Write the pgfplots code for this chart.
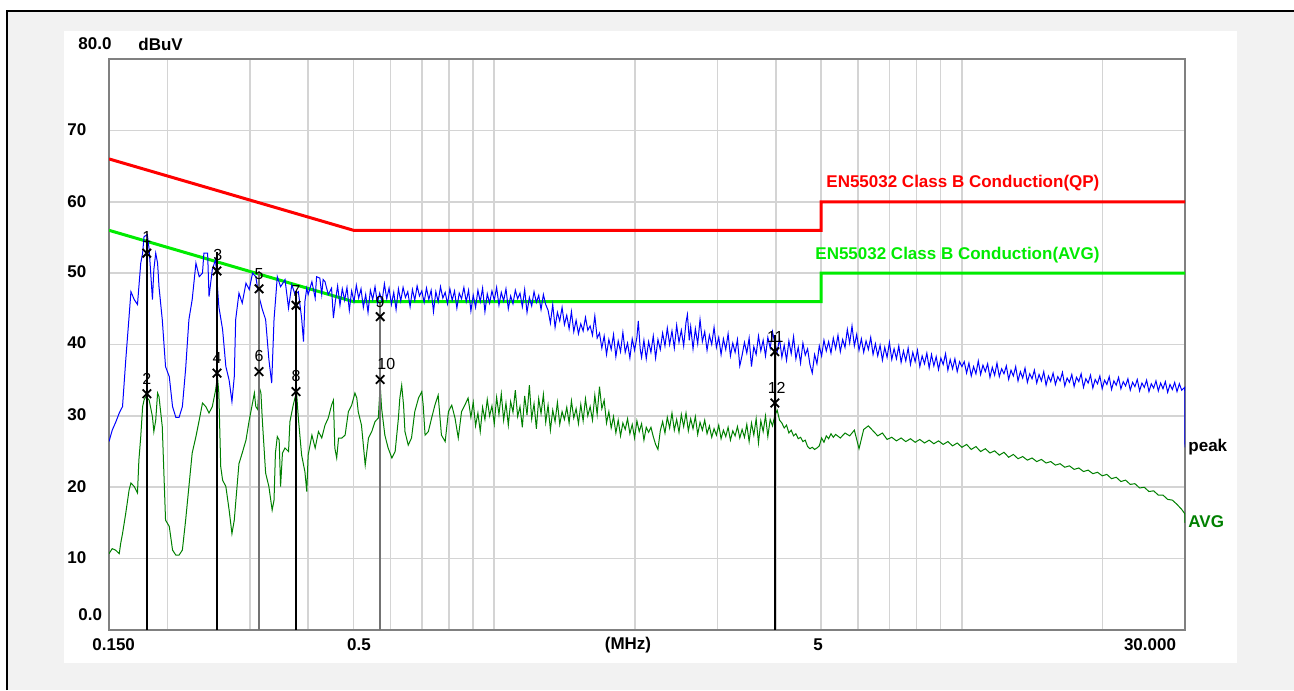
\documentclass[border=0pt]{standalone}
\usepackage{fontspec}
\setmainfont{Liberation Sans}
\usepackage{pgfplots}
\pgfplotsset{compat=1.18}
\definecolor{limred}{RGB}{255,0,0}
\definecolor{limgreen}{RGB}{0,235,0}
\definecolor{avgtrace}{RGB}{0,128,0}
\definecolor{pktrace}{RGB}{0,0,255}
\definecolor{panelgray}{RGB}{242,242,242}
\definecolor{gridgray}{RGB}{212,212,212}
\definecolor{framegray}{RGB}{128,128,128}
\newcommand{\lab}{\fontsize{8.5}{10}\selectfont\bfseries}
\newcommand{\mlab}{\fontsize{8}{9}\selectfont}
\begin{document}
\begin{tikzpicture}
\begin{scope}[x=0.5pt,y=-0.5pt]
\useasboundingbox (0,0) rectangle (1294,690);
\fill[white] (0,0) rectangle (1294,690);
\fill[panelgray] (7,11) rectangle (1294,690);
\draw[black,line width=1pt] (7,690) -- (7,11) -- (1294,11);
\fill[white] (64,31) rectangle (1237,663);
\end{scope}
\begin{axis}[at={(54.5pt,-29.5pt)}, anchor=north west, scale only axis,
  width=538pt, height=285.5pt,
  xmin=-0.82391, xmax=1.47712, ymin=0, ymax=80,
  xtick={-0.69897,-0.52288,-0.39794,-0.30103,-0.22185,-0.15490,-0.09691,-0.04576,0,0.30103,0.47712,0.60206,0.69897,0.77815,0.84510,0.90309,0.95424,1,1.30103},
  ytick={10,20,30,40,50,60,70},
  xticklabel=\empty, yticklabel=\empty,
  major tick length=0pt,
  grid=major, major grid style={gridgray, line width=0.8pt},
  axis line style={framegray, line width=1pt}]
% limit lines
\addplot[limred, line width=1.5pt, no marks] coordinates {(-0.82391,66) (-0.30103,56) (0.69897,56) (0.69897,60) (1.47712,60)};
\addplot[limgreen, line width=1.5pt, no marks] coordinates {(-0.82391,56) (-0.30103,46) (0.69897,46) (0.69897,50) (1.47712,50)};
% AVG trace
\addplot[avgtrace, line width=0.5pt, no marks] coordinates {
(-0.8239,10.7)(-0.817,11.4)(-0.810,11.2)(-0.802,10.7)(-0.799,12.1)(-0.795,13.5)(-0.788,16.4)(-0.781,19.6)(-0.777,20.6)(-0.770,20.1)(-0.763,19.2)(-0.760,23.8)(-0.756,27.1)(-0.752,31.3)(-0.749,32.2)(-0.745,32.7)(-0.738,32.2)(-0.731,29.9)(-0.728,27.8)(-0.724,29.4)(-0.720,33.2)(-0.717,32.7)(-0.710,28.5)(-0.703,15.4)(-0.695,14.5)(-0.688,11.2)(-0.681,10.5)(-0.674,10.5)(-0.667,11.2)(-0.660,15.4)(-0.653,20.1)(-0.646,24.8)(-0.638,27.1)(-0.631,29.4)(-0.624,31.8)(-0.617,31.3)(-0.610,30.4)(-0.603,31.3)(-0.596,33.6)(-0.592,35.5)(-0.589,33.2)(-0.585,22.9)(-0.581,21.0)(-0.574,20.1)(-0.567,16.8)(-0.561,13.5)(-0.556,15.4)(-0.553,17.8)(-0.546,23.3)(-0.539,24.8)(-0.531,26.6)(-0.524,29.4)(-0.517,31.8)(-0.513,33.2)(-0.510,31.3)(-0.506,30.9)(-0.503,34.1)(-0.499,33.2)(-0.496,29.4)(-0.489,22.0)(-0.482,20.1)(-0.475,16.8)(-0.471,18.2)(-0.468,24.8)(-0.464,27.1)(-0.460,26.6)(-0.457,20.1)(-0.453,24.8)
(-0.4475,25.5)(-0.440,25.0)(-0.437,29.2)(-0.430,31.5)(-0.423,33.4)(-0.419,29.7)(-0.412,24.5)(-0.405,22.2)(-0.401,19.4)(-0.398,24.5)(-0.390,27.3)(-0.383,25.5)(-0.376,27.8)(-0.369,26.9)(-0.362,28.7)(-0.355,29.7)(-0.348,31.5)(-0.344,32.2)(-0.341,25.5)(-0.337,24.1)(-0.333,26.9)(-0.326,26.9)(-0.319,27.3)(-0.312,30.6)(-0.305,31.5)(-0.298,33.2)(-0.294,32.5)(-0.291,30.6)(-0.284,28.7)(-0.276,23.1)(-0.269,26.9)(-0.262,27.8)(-0.255,29.2)(-0.248,29.7)(-0.244,34.3)(-0.241,31.1)(-0.234,27.3)(-0.227,25.5)(-0.219,24.1)(-0.212,25.0)(-0.205,29.7)(-0.202,32.5)(-0.198,34.3)(-0.194,31.5)(-0.191,27.8)(-0.184,25.9)(-0.177,26.9)(-0.170,30.6)(-0.162,32.5)(-0.155,33.4)(-0.152,31.5)(-0.148,27.3)(-0.141,27.8)(-0.134,29.7)(-0.127,31.5)(-0.120,32.9)(-0.116,29.7)(-0.113,27.3)(-0.105,26.4)(-0.098,30.6)(-0.091,31.5)(-0.084,29.7)(-0.077,26.9)(-0.070,30.6)(-0.063,31.5)(-0.056,32.5)
(-0.050,29.8)(-0.045,31.9)(-0.040,28.6)(-0.035,30.4)(-0.030,27.8)(-0.025,31.2)(-0.020,29.5)(-0.015,32.3)(-0.010,30.0)(-0.005,31.4)(0.000,28.9)(0.005,32.6)(0.010,30.2)(0.015,33.1)(0.020,29.4)(0.025,31.8)(0.030,28.7)(0.035,32.0)(0.040,30.5)(0.045,33.6)(0.050,29.9)(0.055,31.3)(0.060,28.4)(0.065,32.8)(0.070,30.1)(0.075,34.3)(0.080,29.6)(0.085,31.7)(0.090,28.2)(0.095,32.4)(0.100,30.3)(0.105,33.0)(0.110,29.1)(0.115,31.5)(0.120,28.0)(0.125,30.8)(0.130,29.2)(0.135,31.9)(0.140,28.8)(0.145,30.6)(0.150,29.5)(0.155,31.2)(0.160,29.0)(0.165,32.1)(0.170,29.7)(0.175,31.0)(0.180,28.9)(0.185,31.6)(0.190,29.3)(0.195,32.4)(0.200,30.0)(0.205,31.3)(0.210,29.4)(0.215,32.9)(0.220,30.2)(0.225,34.1)(0.230,31.0)(0.235,32.2)(0.240,29.0)(0.245,30.6)(0.250,28.3)(0.255,29.9)(0.260,27.6)(0.265,29.4)(0.270,27.2)(0.275,29.0)(0.280,28.1)(0.285,29.6)(0.290,27.5)(0.295,28.8)(0.300,26.9)(0.305,29.3)(0.310,27.8)(0.315,28.9)(0.320,26.6)(0.325,28.4)(0.330,27.7)
(0.335,28.4)(0.340,27.1)(0.345,26.0)(0.350,25.3)(0.355,27.9)(0.360,29.2)(0.365,27.6)(0.370,29.8)(0.375,28.3)(0.380,30.4)(0.385,28.0)(0.390,29.5)(0.395,27.7)(0.400,30.2)(0.405,28.5)(0.410,30.4)(0.415,27.9)(0.420,29.6)(0.425,28.2)(0.430,29.9)(0.435,27.4)(0.440,29.1)(0.445,28.0)(0.450,29.4)(0.455,27.5)(0.460,28.6)(0.465,27.0)(0.470,28.2)(0.475,27.3)(0.480,28.7)(0.485,26.8)(0.490,28.0)(0.495,27.1)(0.500,28.4)(0.505,26.6)(0.510,27.9)(0.515,27.2)(0.520,28.5)(0.525,26.9)(0.530,28.1)(0.535,27.0)(0.540,28.8)(0.545,26.4)(0.550,29.0)(0.555,27.3)(0.560,29.6)(0.565,26.2)(0.570,29.3)(0.575,27.8)(0.580,30.0)(0.585,27.1)(0.590,29.5)(0.595,28.6)(0.600,30.1)(0.605,30.8)(0.610,29.4)(0.615,29.0)(0.620,28.3)(0.625,28.7)(0.630,27.6)(0.635,28.0)(0.640,27.2)(0.645,27.5)(0.650,26.8)(0.655,27.0)(0.660,26.4)(0.665,26.6)(0.670,25.7)(0.675,25.4)(0.680,25.6)(0.685,25.3)(0.690,25.5)(0.695,25.8)(0.700,26.9)(0.705,26.3)(0.710,27.2)(0.715,26.8)(0.720,27.5)(0.725,27.0)
(0.730,27.4)(0.740,26.9)(0.750,27.6)(0.760,27.2)(0.770,28.0)(0.780,25.4)(0.790,28.1)(0.800,28.6)(0.810,27.9)(0.820,27.2)(0.830,27.6)(0.840,26.7)(0.850,27.0)(0.860,26.5)(0.870,26.9)(0.880,26.4)(0.890,26.8)(0.900,26.3)(0.910,26.7)(0.920,26.2)(0.930,26.6)(0.940,26.1)(0.950,26.5)(0.960,26.0)(0.970,26.4)(0.980,25.8)(0.990,26.2)(1.000,25.6)(1.010,26.0)(1.020,25.3)(1.030,25.7)(1.040,25.0)(1.050,25.4)(1.060,24.8)(1.070,25.1)(1.080,24.5)(1.090,24.9)(1.100,24.2)(1.110,24.6)(1.120,24.0)(1.130,24.3)(1.140,23.8)(1.150,24.1)(1.160,23.6)(1.170,23.9)(1.180,23.4)(1.190,23.6)(1.200,23.1)(1.210,23.3)(1.220,22.8)(1.230,23.0)(1.240,22.5)(1.250,22.7)(1.260,22.2)(1.270,22.4)(1.280,21.9)(1.290,22.1)(1.300,21.6)(1.310,21.8)(1.320,21.2)(1.330,21.4)(1.340,20.8)(1.350,21.0)(1.360,20.4)(1.370,20.5)(1.380,19.9)(1.390,20.0)(1.400,19.4)(1.410,19.5)(1.420,18.9)(1.430,18.9)(1.440,18.3)(1.450,18.2)(1.460,17.6)(1.470,16.9)(1.4765,16.3)(1.4771,15.0)
};
% peak trace
\addplot[pktrace, line width=0.5pt, no marks] coordinates {
(-0.8239,26.4)(-0.817,28.0)(-0.809,29.2)(-0.802,30.4)(-0.795,31.3)(-0.788,37.9)(-0.781,43.9)(-0.777,47.4)(-0.770,46.3)(-0.763,45.6)(-0.760,48.1)(-0.756,51.4)(-0.752,52.8)(-0.749,55.1)(-0.742,55.4)(-0.738,53.3)(-0.731,46.3)(-0.728,50.5)(-0.724,52.8)(-0.720,51.4)(-0.717,48.1)(-0.710,43.5)(-0.703,36.9)(-0.695,35.5)(-0.688,31.3)(-0.681,29.8)(-0.674,29.8)(-0.667,31.3)(-0.660,36.6)(-0.653,43.5)(-0.646,46.3)(-0.638,51.4)(-0.631,49.5)(-0.624,50.0)(-0.621,52.8)(-0.613,52.8)(-0.610,46.7)(-0.603,50.5)(-0.596,51.9)(-0.592,48.1)(-0.589,45.3)(-0.581,42.1)(-0.574,36.9)(-0.567,35.0)(-0.561,32.0)(-0.556,35.5)(-0.553,43.5)(-0.546,47.2)(-0.539,45.8)(-0.531,48.6)(-0.524,47.7)(-0.517,50.0)(-0.510,49.5)(-0.503,46.7)(-0.496,44.9)(-0.489,43.5)(-0.482,37.9)(-0.476,34.6)(-0.471,43.5)(-0.464,49.5)(-0.457,48.1)(-0.452,48.6)
(-0.4475,49.1)(-0.440,45.1)(-0.433,48.4)(-0.426,47.0)(-0.419,47.4)(-0.412,43.7)(-0.408,40.4)(-0.405,46.0)(-0.401,47.9)(-0.398,47.0)(-0.390,48.8)(-0.383,46.5)(-0.380,49.5)(-0.373,49.3)(-0.369,47.0)(-0.366,49.1)(-0.362,48.8)(-0.355,47.0)(-0.348,47.9)(-0.344,43.7)
(-0.340,46.0)(-0.335,48.2)(-0.330,45.5)(-0.325,47.8)(-0.320,46.2)(-0.315,48.0)(-0.310,44.8)(-0.305,47.5)(-0.300,46.0)(-0.295,48.3)(-0.290,46.5)(-0.285,47.8)(-0.280,45.2)(-0.275,47.0)(-0.270,44.5)(-0.265,47.6)(-0.260,46.3)(-0.255,48.1)(-0.250,45.8)(-0.245,47.2)(-0.240,46.0)(-0.235,48.5)(-0.230,46.4)(-0.225,47.9)(-0.220,45.6)(-0.215,47.3)(-0.210,44.9)(-0.205,47.8)(-0.200,46.1)(-0.195,48.0)(-0.190,46.6)(-0.185,47.4)(-0.180,45.3)(-0.175,47.7)(-0.170,46.2)(-0.165,48.2)(-0.160,46.8)(-0.155,47.5)(-0.150,45.9)(-0.145,47.9)(-0.140,46.3)(-0.135,47.6)(-0.130,44.6)(-0.125,47.4)(-0.120,46.0)(-0.115,48.1)(-0.110,46.5)(-0.105,47.3)(-0.100,45.7)(-0.095,47.8)(-0.090,46.2)(-0.085,47.5)(-0.080,45.1)(-0.075,47.2)(-0.070,46.4)(-0.065,48.0)(-0.060,46.0)(-0.055,47.6)(-0.050,44.7)
(-0.045,46.9)(-0.040,45.2)(-0.035,47.6)(-0.030,46.0)(-0.025,47.9)(-0.020,44.6)(-0.015,47.1)(-0.010,45.8)(-0.005,47.5)(0.000,46.2)(0.005,48.0)(0.010,45.5)(0.015,47.3)(0.020,46.1)(0.025,47.8)(0.030,45.0)(0.035,46.8)(0.040,45.7)(0.045,47.6)(0.050,46.4)(0.055,47.2)(0.060,45.3)(0.065,47.7)(0.070,44.5)(0.075,46.6)(0.080,45.4)(0.085,47.4)(0.090,45.9)(0.095,46.9)(0.100,44.9)(0.105,47.0)(0.110,45.6)
(0.115,44.8)(0.120,43.0)(0.125,45.6)(0.130,42.4)(0.135,44.5)(0.140,43.3)(0.145,45.2)(0.150,42.8)(0.155,44.1)(0.160,42.2)(0.165,44.6)
(0.170,41.8)(0.175,43.4)(0.180,41.5)(0.185,42.9)(0.190,41.9)(0.195,43.8)(0.200,42.0)(0.205,42.6)(0.210,41.3)(0.215,44.0)(0.220,40.9)
(0.225,41.6)(0.230,39.5)(0.235,41.2)(0.240,38.6)(0.245,40.7)(0.250,39.3)(0.255,41.4)(0.260,38.3)(0.265,40.5)(0.270,39.0)(0.275,41.7)(0.280,38.9)(0.285,40.2)(0.290,38.1)(0.295,40.8)(0.300,39.2)(0.305,41.0)(0.308,43.3)(0.312,39.4)(0.315,38.2)(0.320,40.6)(0.325,38.0)(0.330,40.4)
(0.335,38.9)(0.340,41.2)(0.345,38.1)(0.350,40.7)(0.355,39.3)(0.360,41.6)(0.365,39.8)(0.370,42.3)(0.375,40.0)(0.380,41.9)(0.385,39.5)(0.390,42.7)(0.395,40.3)(0.400,42.0)(0.405,39.8)(0.410,43.1)(0.413,44.2)(0.417,40.6)(0.420,42.5)(0.425,39.4)(0.430,42.2)(0.435,40.1)(0.440,43.5)(0.445,40.4)(0.450,41.8)(0.455,39.2)(0.460,41.3)(0.465,40.0)(0.470,42.4)(0.475,39.6)(0.480,41.0)(0.485,38.6)(0.490,40.8)
(0.495,39.3)(0.500,41.5)(0.505,38.4)(0.510,40.2)(0.515,38.9)(0.520,40.7)(0.525,37.0)(0.530,38.5)(0.535,40.3)(0.540,38.8)(0.545,40.9)(0.550,36.9)(0.555,39.7)(0.560,38.6)(0.565,41.2)(0.570,39.1)(0.575,40.6)(0.580,38.4)(0.585,41.0)(0.590,39.5)(0.595,41.8)(0.600,40.1)(0.605,39.0)(0.610,40.8)(0.615,38.2)(0.620,39.9)(0.625,37.8)(0.630,40.5)(0.635,38.7)(0.640,41.1)(0.645,38.0)(0.650,39.6)(0.655,37.4)(0.660,40.2)(0.665,38.5)(0.670,39.4)(0.675,37.2)(0.680,36.0)(0.685,38.6)(0.690,37.3)(0.695,39.8)(0.700,38.4)(0.705,40.6)(0.710,39.1)(0.715,40.4)(0.720,38.8)(0.725,40.9)
(0.730,39.4)(0.735,41.3)(0.740,39.0)(0.745,40.7)(0.750,39.6)(0.755,42.1)(0.760,40.2)(0.765,42.6)(0.770,39.8)(0.775,41.4)(0.780,39.2)(0.785,40.8)(0.790,38.9)(0.795,40.5)(0.800,39.3)(0.805,41.0)(0.810,38.6)(0.815,40.1)(0.820,38.4)(0.825,39.9)(0.830,37.8)(0.835,39.6)(0.840,38.2)(0.845,40.3)(0.850,37.9)(0.855,39.4)(0.860,38.0)(0.865,39.8)(0.870,37.5)(0.875,39.1)(0.880,37.7)(0.885,39.5)(0.890,37.2)(0.895,38.9)(0.900,37.6)(0.905,39.2)(0.910,36.9)(0.915,38.4)(0.920,37.3)(0.925,38.8)(0.930,36.7)(0.935,38.6)(0.940,37.0)(0.945,38.3)(0.950,36.5)(0.955,38.1)(0.960,37.2)(0.965,38.7)(0.970,36.4)(0.975,37.9)(0.980,36.6)(0.985,38.0)(0.990,36.2)(0.995,37.6)(1.000,36.9)
(1.005,37.6)(1.010,36.0)(1.015,37.4)(1.020,35.6)(1.025,36.9)(1.030,35.9)(1.035,37.7)(1.040,35.8)(1.045,37.1)(1.050,36.2)(1.055,37.3)(1.060,35.4)(1.065,36.8)(1.070,35.7)(1.075,37.4)(1.080,35.5)(1.085,36.6)(1.090,35.9)(1.095,37.0)(1.100,35.1)(1.105,36.4)(1.110,35.6)(1.115,36.9)(1.120,34.9)(1.125,36.2)(1.130,35.3)(1.135,36.7)(1.140,34.7)(1.145,35.9)(1.150,35.2)(1.155,36.4)(1.160,34.6)(1.165,35.8)(1.170,34.9)(1.175,36.2)(1.180,34.3)(1.185,35.6)(1.190,34.8)(1.195,36.0)(1.200,34.4)(1.205,35.5)(1.210,34.9)(1.215,36.1)(1.220,34.2)(1.225,35.3)(1.230,34.7)(1.235,35.8)(1.240,34.1)(1.245,35.4)(1.250,34.8)(1.255,35.9)(1.260,34.0)(1.265,35.2)(1.270,34.6)(1.275,35.7)(1.280,33.9)(1.285,35.1)(1.290,34.5)(1.295,35.6)(1.300,33.8)(1.305,35.0)(1.310,34.4)(1.315,35.5)(1.320,33.7)(1.325,34.9)(1.330,34.3)(1.335,35.4)(1.340,33.8)(1.345,34.8)(1.350,34.2)(1.355,35.2)(1.360,33.6)(1.365,34.7)(1.370,34.1)(1.375,35.1)(1.380,33.5)(1.385,34.6)(1.390,34.0)(1.395,35.0)(1.400,33.4)(1.405,34.5)(1.410,33.9)(1.415,34.9)(1.420,33.5)(1.425,34.6)(1.430,33.8)(1.435,34.8)(1.440,33.3)(1.445,34.4)(1.450,33.7)(1.455,34.7)(1.460,33.4)(1.465,34.5)(1.470,33.6)(1.4765,34.0)(1.4771,25.6)
};
% marker lines
\addplot[ycomb, black, line width=0.8pt, no marks] coordinates {(-0.743,54.8) (-0.593,53.0) (-0.424,47.5) (0.600,41.3)};
\addplot[ycomb, black!55, line width=0.8pt, no marks] coordinates {(-0.503,50.3) (-0.244,45.9)};
% markers
\addplot[only marks, mark=x, mark size=3pt, black, line width=0.9pt] coordinates {
(-0.743,52.8)(-0.743,33.1)(-0.593,50.3)(-0.593,36.0)(-0.503,47.8)(-0.503,36.2)(-0.424,45.5)(-0.424,33.4)(-0.244,43.9)(-0.244,35.1)(0.600,39.0)(0.600,31.8)};
\node[font=\mlab] at (axis cs:-0.743,55.0) {1};
\node[font=\mlab] at (axis cs:-0.743,35.2) {2};
\node[font=\mlab] at (axis cs:-0.591,52.5) {3};
\node[font=\mlab] at (axis cs:-0.593,38.1) {4};
\node[font=\mlab] at (axis cs:-0.503,49.8) {5};
\node[font=\mlab] at (axis cs:-0.503,38.4) {6};
\node[font=\mlab] at (axis cs:-0.424,47.5) {7};
\node[font=\mlab] at (axis cs:-0.424,35.6) {8};
\node[font=\mlab] at (axis cs:-0.244,46.0) {9};
\node[font=\mlab] at (axis cs:-0.231,37.3) {10};
\node[font=\mlab] at (axis cs:0.601,41.0) {11};
\node[font=\mlab] at (axis cs:0.604,33.9) {12};
\end{axis}
\begin{scope}[x=0.5pt,y=-0.5pt]
\node[font=\lab, anchor=west, inner sep=0pt] at (78,44) {80.0};
\node[font=\lab, anchor=west, inner sep=0pt] at (138,44) {dBuV};
\foreach \v/\yy in {70/130,60/202,50/272,40/343,30/415,20/487,10/558}
  \node[font=\lab, anchor=west, inner sep=0pt] at (67,\yy) {\v};
\node[font=\lab, anchor=west, inner sep=0pt] at (78,615) {0.0};
\node[font=\lab, anchor=west, inner sep=0pt] at (92,645) {0.150};
\node[font=\lab, inner sep=0pt] at (359,645) {0.5};
\node[font=\lab, inner sep=0pt] at (628,645) {(MHz)};
\node[font=\lab, inner sep=0pt] at (818,645) {5};
\node[font=\lab, inner sep=0pt] at (1150,645) {30.000};
\node[font=\lab, anchor=west, inner sep=0pt] at (1188,447) {peak};
\node[font=\lab, anchor=west, inner sep=0pt, text=avgtrace] at (1188,522) {AVG};
\node[font=\lab, anchor=west, inner sep=0pt, text=limred] at (826,183) {EN55032 Class B Conduction(QP)};
\node[font=\lab, anchor=west, inner sep=0pt, text=limgreen] at (815,255) {EN55032 Class B Conduction(AVG)};
\end{scope}
\end{tikzpicture}
\end{document}
